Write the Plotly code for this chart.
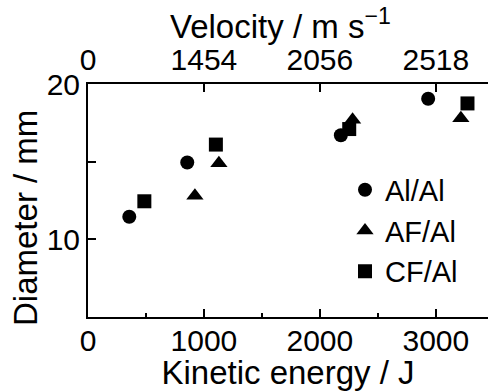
import plotly.graph_objects as go

# Data
energy_al = [356, 856, 2181, 2934]
diam_al = [11.45, 14.95, 16.7, 19.05]

energy_af = [922, 1129, 2282, 3216]
diam_af = [12.8, 14.9, 17.7, 17.8]

energy_cf = [486, 1103, 2253, 3273]
diam_cf = [12.45, 16.1, 17.1, 18.75]

energy_ticks = [0, 1000, 2000, 3000]
energy_minor = [500, 1500, 2500]
velocity_ticks = [0, 1454, 2056, 2518]
velocity_tick_energy = [0, 1000, 2000, 3000]
diam_ticks = [10, 20]
diam_minor = [15]

FONT = "Liberation Sans, Arial, Helvetica, sans-serif"

fig = go.Figure()
series = [
    ("Al/Al", energy_al, diam_al, "circle", 14),
    ("AF/Al", energy_af, diam_af, "triangle-up", 15),
    ("CF/Al", energy_cf, diam_cf, "square", 14),
]
for name, xs, ys, sym, sz in series:
    fig.add_trace(go.Scatter(
        x=xs, y=ys, mode="markers", name=name,
        marker=dict(symbol=sym, size=sz, color="black", line=dict(width=0)),
    ))

# invisible trace to activate top axis
fig.add_trace(go.Scatter(x=[None], y=[None], xaxis="x2", showlegend=False,
                         hoverinfo="skip", mode="markers"))

fig.update_layout(
    width=488, height=391,
    margin=dict(l=88, r=0, t=84, b=74),
    paper_bgcolor="white", plot_bgcolor="white",
    font=dict(family=FONT, size=30, color="black"),
    showlegend=True,
    legend=dict(x=0.6425, y=0.655, xanchor="left", yanchor="top",
                bgcolor="rgba(0,0,0,0)", font=dict(size=29), itemsizing="trace"),
    xaxis=dict(
        range=[0, 3450], tickmode="array", tickvals=energy_ticks,
        ticktext=[str(v) for v in energy_ticks], automargin=False,
        ticks="inside", ticklen=8, tickwidth=1.5, tickcolor="black",
        ticklabelstandoff=-4,
        minor=dict(tickmode="array", tickvals=energy_minor, ticks="inside",
                   ticklen=4, tickwidth=1.5, tickcolor="black"),
        showline=True, linecolor="black", linewidth=2, mirror=False,
        showgrid=False, zeroline=False,
        title=dict(text="Kinetic energy / J", standoff=1, font=dict(size=33)),
        tickfont=dict(size=30),
    ),
    xaxis2=dict(
        overlaying="x", side="top", range=[0, 3450], tickmode="array",
        tickvals=velocity_tick_energy, ticktext=[str(v) for v in velocity_ticks],
        automargin=False,
        ticks="inside", ticklen=8, tickwidth=1.5, tickcolor="black",
        showline=True, linecolor="black", linewidth=2,
        showgrid=False, zeroline=False,
        tickfont=dict(size=30),
    ),
    yaxis=dict(
        range=[5, 20], tickmode="array", tickvals=diam_ticks,
        ticktext=[str(v) for v in diam_ticks], automargin=False,
        ticks="inside", ticklen=8, tickwidth=1.5, tickcolor="black",
        minor=dict(tickmode="array", tickvals=diam_minor, ticks="inside",
                   ticklen=8, tickwidth=1.5, tickcolor="black"),
        showline=True, linecolor="black", linewidth=2, mirror=False,
        showgrid=False, zeroline=False,
        tickfont=dict(size=30),
    ),
    annotations=[
        dict(
            text="Velocity / m s<sup>−1</sup>", xref="paper", yref="paper",
            x=(280 - 88) / 400, y=1 + (84 - 47) / 233, xanchor="center",
            yanchor="bottom", showarrow=False, font=dict(size=33),
        ),
        dict(
            text="Diameter / mm", xref="paper", yref="paper", textangle=-90,
            x=(25 - 88) / 400, y=(317 - 218) / 233, xanchor="center",
            yanchor="middle", showarrow=False, font=dict(size=33),
        ),
    ],
)

fig.write_html(
    "out.html",
    config={"displayModeBar": False},
    post_script="document.body.style.margin='0';document.body.style.overflow='hidden';",
)
